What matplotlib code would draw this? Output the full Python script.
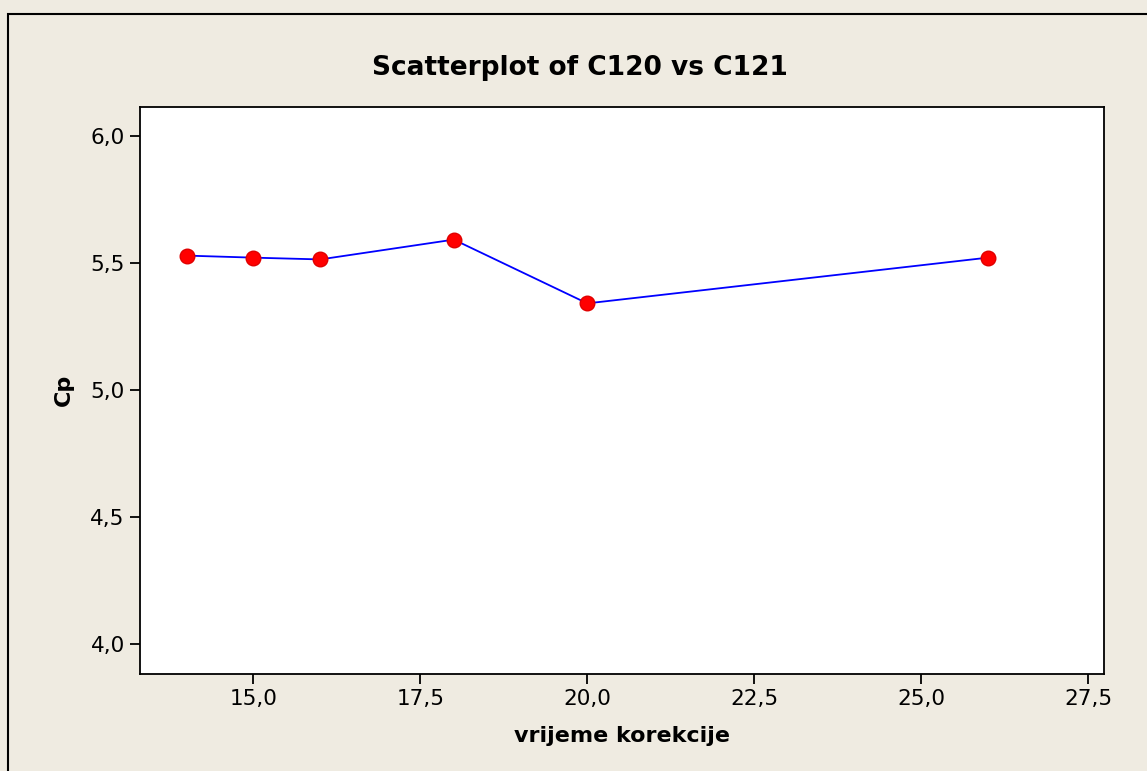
import matplotlib.pyplot as plt
from matplotlib.patches import Rectangle
from matplotlib.ticker import FuncFormatter

# data
vrijeme = [14, 15, 16, 18, 20, 26]
cp = [5.528, 5.520, 5.513, 5.591, 5.340, 5.520]

x_ticks = [15.0, 17.5, 20.0, 22.5, 25.0, 27.5]
y_ticks = [4.0, 4.5, 5.0, 5.5, 6.0]

bg = '#EFEBE1'

fig = plt.figure(figsize=(11.47, 7.71), dpi=100, facecolor=bg)
# outer frame (left and top edge only visible)
fig.patches.append(Rectangle((8 / 1147, -0.05), 1.2, 1 - 14 / 771 + 0.05,
                             transform=fig.transFigure, fill=False,
                             edgecolor='black', linewidth=1.5))

ax = fig.add_axes([140 / 1147, 1 - 674 / 771, (1104 - 140) / 1147, (674 - 106.5) / 771])
ax.set_facecolor('white')

ax.plot(vrijeme, cp, color='#0000FF', linewidth=1.3, zorder=2)
ax.plot(vrijeme, cp, linestyle='none', marker='o', markersize=10.5,
        markerfacecolor='#FF0000', markeredgecolor='#E00000', zorder=3)

ax.set_xlim(13.30, 27.74)
ax.set_ylim(3.881, 6.115)
ax.set_xticks(x_ticks)
ax.set_yticks(y_ticks)

comma = FuncFormatter(lambda v, p: f'{v:.1f}'.replace('.', ','))
ax.xaxis.set_major_formatter(comma)
ax.yaxis.set_major_formatter(comma)
ax.tick_params(direction='out', length=7, width=1.3, labelsize=15.5, pad=4)
for s in ax.spines.values():
    s.set_linewidth(1.3)

ax.set_xlabel('vrijeme korekcije', fontsize=16, fontweight='bold', labelpad=12)
ax.set_ylabel('Cp', fontsize=16, fontweight='bold', labelpad=12)
fig.text(580 / 1147, 1 - 68 / 771, 'Scatterplot of C120 vs C121', fontsize=19,
         fontweight='bold', ha='center', va='center')

fig.savefig('out.png', dpi=100, facecolor=bg)
